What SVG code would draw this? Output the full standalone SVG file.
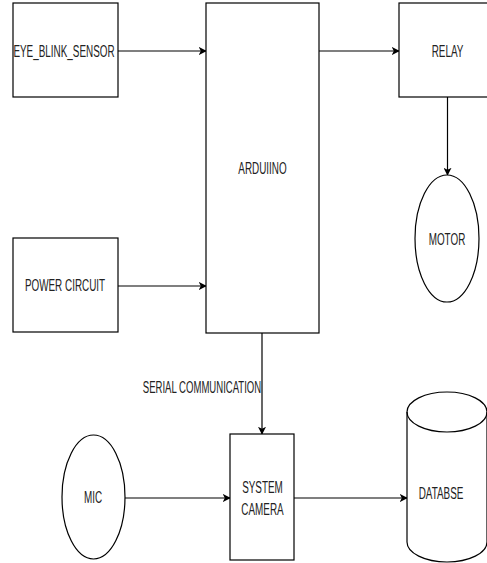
<svg xmlns="http://www.w3.org/2000/svg" width="487" height="563" viewBox="0 0 487 563">
<style>
.box{fill:#fff;stroke:#000;stroke-width:1.2}
.ln{fill:none;stroke:#000;stroke-width:1.2}
text{font-family:"Liberation Sans",Arial,sans-serif;font-size:16.5px;fill:#222;text-anchor:middle}
</style>
<defs>
<marker id="ah" viewBox="0 0 10 10" refX="9" refY="5" markerWidth="8" markerHeight="8" markerUnits="userSpaceOnUse" orient="auto">
<path d="M0,0 L10,5 L0,10 L2.5,5 Z" fill="#000"/>
</marker>
</defs>
<rect width="487" height="563" fill="#fff"/>
<g id="connectors">
<line class="ln" x1="118" y1="51" x2="206" y2="51" marker-end="url(#ah)"/>
<line class="ln" x1="118" y1="286" x2="206" y2="286" marker-end="url(#ah)"/>
<line class="ln" x1="319" y1="51" x2="399" y2="51" marker-end="url(#ah)"/>
<line class="ln" x1="447.5" y1="97" x2="447.5" y2="175" marker-end="url(#ah)"/>
<line class="ln" x1="262" y1="333" x2="262" y2="434" marker-end="url(#ah)"/>
<line class="ln" x1="125" y1="498" x2="230" y2="498" marker-end="url(#ah)"/>
<line class="ln" x1="294" y1="498" x2="407" y2="498" marker-end="url(#ah)"/>
<text transform="translate(202,393) scale(0.58,1)">SERIAL COMMUNICATION</text>
</g>
<g id="eye">
<rect class="box" x="13" y="3" width="105" height="94"/>
<text transform="translate(64,57) scale(0.6,1)">EYE_BLINK_SENSOR</text>
</g>
<g id="power">
<rect class="box" x="13" y="238" width="105" height="94"/>
<text transform="translate(65,291) scale(0.6,1)">POWER CIRCUIT</text>
</g>
<g id="arduino">
<rect class="box" x="206" y="3" width="113" height="330"/>
<text transform="translate(262.5,174) scale(0.6,1)">ARDUIINO</text>
</g>
<g id="relay">
<rect class="box" x="399" y="3" width="97" height="94"/>
<text transform="translate(447.5,57) scale(0.6,1)">RELAY</text>
</g>
<g id="motor">
<ellipse class="box" cx="447" cy="238.5" rx="32" ry="63.5"/>
<text transform="translate(447,245) scale(0.6,1)">MOTOR</text>
</g>
<g id="camera">
<rect class="box" x="230" y="434" width="64" height="126"/>
<text transform="translate(262.5,492.5) scale(0.6,1)">SYSTEM</text>
<text transform="translate(262.5,515) scale(0.6,1)">CAMERA</text>
</g>
<g id="mic">
<ellipse class="box" cx="93.5" cy="497" rx="31.5" ry="62"/>
<text transform="translate(93,503) scale(0.6,1)">MIC</text>
</g>
<g id="database">
<path class="box" d="M407,412 A40,20 0 0 1 487,412 L487,542 A40,20 0 0 1 407,542 Z"/>
<path class="ln" d="M407,412 A40,20 0 0 0 487,412"/>
<text transform="translate(441,499) scale(0.6,1)">DATABSE</text>
</g>
</svg>
